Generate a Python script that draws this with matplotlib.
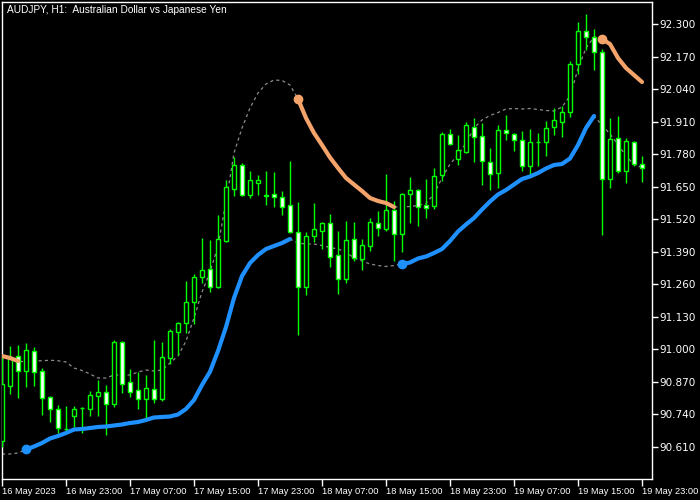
import matplotlib
matplotlib.use('Agg')
import matplotlib.pyplot as plt
import numpy as np
from matplotlib.patches import Rectangle

# AUDJPY H1 bars, 16 May 2023 15:00 .. 19 May 2023 23:00
opens = [90.633, 90.854, 90.973, 90.914, 90.992, 90.913, 90.808, 90.761, 90.681, 90.734,
         90.763, 90.762, 90.814, 90.829, 90.782, 91.029, 90.868, 90.837, 90.802, 90.840,
         90.800, 90.966, 91.070, 91.104, 91.188, 91.290, 91.320, 91.250, 91.434, 91.642,
         91.736, 91.618, 91.666, 91.617, 91.621, 91.609, 91.577, 91.468, 91.250, 91.454,
         91.474, 91.504, 91.377, 91.280, 91.441, 91.362, 91.414, 91.504, 91.481, 91.557,
         91.460, 91.620, 91.636, 91.577, 91.574, 91.696, 91.861, 91.760, 91.790, 91.890,
         91.852, 91.748, 91.704, 91.876, 91.860, 91.836, 91.734, 91.828, 91.828, 91.888,
         91.910, 91.950, 92.140, 92.273, 92.248, 92.188, 91.680, 91.844, 91.713, 91.828, 91.740]
highs = [90.973, 91.013, 91.017, 91.024, 91.010, 90.926, 90.813, 90.777, 90.773, 90.773,
         90.770, 90.833, 90.877, 90.857, 91.037, 91.033, 90.921, 90.910, 90.897, 91.037,
         91.029, 91.082, 91.109, 91.273, 91.301, 91.445, 91.437, 91.537, 91.677, 91.770,
         91.744, 91.713, 91.697, 91.713, 91.710, 91.633, 91.754, 91.588, 91.468, 91.586,
         91.508, 91.540, 91.473, 91.513, 91.508, 91.441, 91.524, 91.553, 91.701, 91.593,
         91.625, 91.688, 91.641, 91.681, 91.724, 91.870, 91.880, 91.857, 91.908, 91.926,
         91.904, 91.804, 91.897, 91.937, 91.866, 91.873, 91.880, 91.865, 91.913, 91.964,
         91.974, 92.153, 92.310, 92.341, 92.281, 92.200, 91.924, 91.933, 91.844, 91.833, 91.773]
lows = [90.609, 90.821, 90.806, 90.848, 90.854, 90.737, 90.710, 90.664, 90.670, 90.690,
        90.666, 90.733, 90.734, 90.657, 90.770, 90.824, 90.810, 90.760, 90.720, 90.786,
        90.794, 90.940, 90.977, 91.066, 91.100, 91.266, 91.230, 91.244, 91.429, 91.613,
        91.614, 91.606, 91.617, 91.577, 91.570, 91.537, 91.464, 91.057, 91.217, 91.430,
        91.401, 91.330, 91.221, 91.266, 91.354, 91.317, 91.394, 91.453, 91.473, 91.354,
        91.390, 91.506, 91.494, 91.524, 91.562, 91.674, 91.817, 91.737, 91.784, 91.750,
        91.657, 91.637, 91.644, 91.837, 91.794, 91.714, 91.697, 91.734, 91.774, 91.857,
        91.850, 91.930, 92.100, 92.197, 92.117, 91.457, 91.644, 91.704, 91.664, 91.734, 91.670]
closes = [90.861, 90.970, 90.914, 90.996, 90.910, 90.806, 90.762, 90.686, 90.679, 90.760,
          90.765, 90.816, 90.829, 90.782, 91.029, 90.862, 90.830, 90.802, 90.844, 90.800,
          90.968, 91.072, 91.104, 91.190, 91.288, 91.316, 91.250, 91.440, 91.648, 91.736,
          91.618, 91.677, 91.677, 91.615, 91.610, 91.570, 91.470, 91.250, 91.453, 91.480,
          91.504, 91.370, 91.280, 91.437, 91.365, 91.416, 91.508, 91.484, 91.557, 91.460,
          91.620, 91.636, 91.568, 91.566, 91.692, 91.861, 91.820, 91.796, 91.897, 91.850,
          91.752, 91.700, 91.876, 91.864, 91.836, 91.734, 91.829, 91.830, 91.884, 91.916,
          91.950, 92.140, 92.273, 92.248, 92.188, 91.680, 91.840, 91.713, 91.833, 91.740, 91.724]

# indicator lines (upper = sell line, lower = buy line)
upper = [90.973, 90.965, 90.953, 90.949, 90.953, 90.954, 90.956, 90.954, 90.949, 90.925,
         90.915, 90.901, 90.885, 90.885, 90.897, 90.897, 90.897, 90.909, 90.917, 90.913,
         90.917, 90.945, 90.973, 91.033, 91.125, 91.229, 91.309, 91.413, 91.589, 91.785,
         91.885, 91.965, 92.025, 92.061, 92.077, 92.075, 92.057, 92.001, 91.925, 91.865,
         91.817, 91.767, 91.725, 91.685, 91.659, 91.633, 91.605, 91.593, 91.585, 91.569,
         91.569, 91.571, 91.575, 91.583, 91.621, 91.685, 91.741, 91.777, 91.825, 91.885,
         91.917, 91.935, 91.947, 91.961, 91.963, 91.961, 91.963, 91.959, 91.955, 91.953,
         91.969, 92.013, 92.121, 92.205, 92.249, 92.241, 92.221, 92.165, 92.125, 92.097, 92.069]
lower = [90.581, 90.581, 90.585, 90.599, 90.611, 90.625, 90.643, 90.653, 90.665, 90.679,
         90.681, 90.685, 90.689, 90.691, 90.695, 90.699, 90.705, 90.709, 90.717, 90.727,
         90.729, 90.731, 90.739, 90.761, 90.797, 90.857, 90.910, 90.993, 91.089, 91.205,
         91.293, 91.345, 91.377, 91.401, 91.413, 91.425, 91.441, 91.425, 91.421, 91.421,
         91.415, 91.407, 91.401, 91.389, 91.365, 91.353, 91.341, 91.335, 91.331, 91.335,
         91.341, 91.347, 91.363, 91.371, 91.385, 91.401, 91.433, 91.471, 91.499, 91.525,
         91.559, 91.591, 91.619, 91.637, 91.659, 91.681, 91.691, 91.705, 91.723, 91.737,
         91.741, 91.763, 91.817, 91.885, 91.933, 91.897, 91.861, 91.819, 91.773, 91.739, 91.727]
upper_active = [(0, 2), (37, 49), (75, 80)]
lower_active = [(3, 36), (50, 74)]

xtick_pos = [0, 8, 16, 24, 32, 40, 48, 56, 64, 72, 80]
xtick_labels = ['16 May 2023', '16 May 23:00', '17 May 07:00', '17 May 15:00', '17 May 23:00',
                '18 May 07:00', '18 May 15:00', '18 May 23:00', '19 May 07:00', '19 May 15:00',
                '19 May 23:00']
yticks = [90.610, 90.740, 90.870, 91.000, 91.130, 91.260, 91.390, 91.520,
          91.650, 91.780, 91.910, 92.040, 92.170, 92.300]

plt.rcParams['font.family'] = 'DejaVu Sans'
fig = plt.figure(figsize=(7, 5), dpi=100, facecolor='black')
ax = fig.add_axes([2/700, 21/500, 650/700, 477/500], facecolor='black')

n = len(opens)
x = np.arange(n)
green = '#00ff00'
w = 0.6
for i in range(n):
    o, h, l, c = opens[i], highs[i], lows[i], closes[i]
    ax.plot([i, i], [l, h], color=green, lw=1.0, zorder=3, solid_capstyle='butt')
    fc = 'black' if c > o else 'white'
    bot = min(o, c)
    ht = max(abs(c - o), 0.0005)
    ax.add_patch(Rectangle((i - w/2, bot), w, ht, facecolor=fc, edgecolor=green,
                           lw=1.0, zorder=4))

upper = np.array(upper)
lower = np.array(lower)
ax.plot(x, upper, color='#8c8c8c', lw=0.9, dashes=(2.5, 2.5), zorder=2)
ax.plot(x, lower, color='#8c8c8c', lw=0.9, dashes=(2.5, 2.5), zorder=2)

for a, b in upper_active:
    ax.plot(x[a:b+1], upper[a:b+1], color='#f4a46a', lw=3.0, zorder=5, solid_capstyle='round')
    if a > 0:
        ax.plot(x[a], upper[a], 'o', color='#f4a46a', ms=6, zorder=6)
for a, b in lower_active:
    ax.plot(x[a:b+1], lower[a:b+1], color='#1e90ff', lw=3.0, zorder=5, solid_capstyle='round')
    if a > 0:
        ax.plot(x[a], lower[a], 'o', color='#1e90ff', ms=6, zorder=6)

ax.set_xlim(0, 81.25)
ax.set_ylim(90.481, 92.389)

for s in ax.spines.values():
    s.set_color('white')
    s.set_linewidth(1.0)

ax.yaxis.tick_right()
ax.set_yticks(yticks)
ax.set_yticklabels(['%.3f' % v for v in yticks])
ax.set_xticks(xtick_pos)
ax.set_xticklabels(xtick_labels, ha='left', family='Liberation Sans', fontsize=6.7)
ax.tick_params(axis='y', colors='white', labelcolor='white', direction='out',
               length=4, width=1, pad=1, labelsize=7.5)
ax.tick_params(axis='x', colors='white', labelcolor='white', direction='out',
               length=5, width=1, pad=1)

fig.text(7/700, 1 - 10/500, 'AUDJPY, H1:  Australian Dollar vs Japanese Yen',
         color='white', fontsize=7.3, family='Liberation Sans', ha='left', va='center')

fig.savefig('out.png', dpi=100, facecolor='black')
